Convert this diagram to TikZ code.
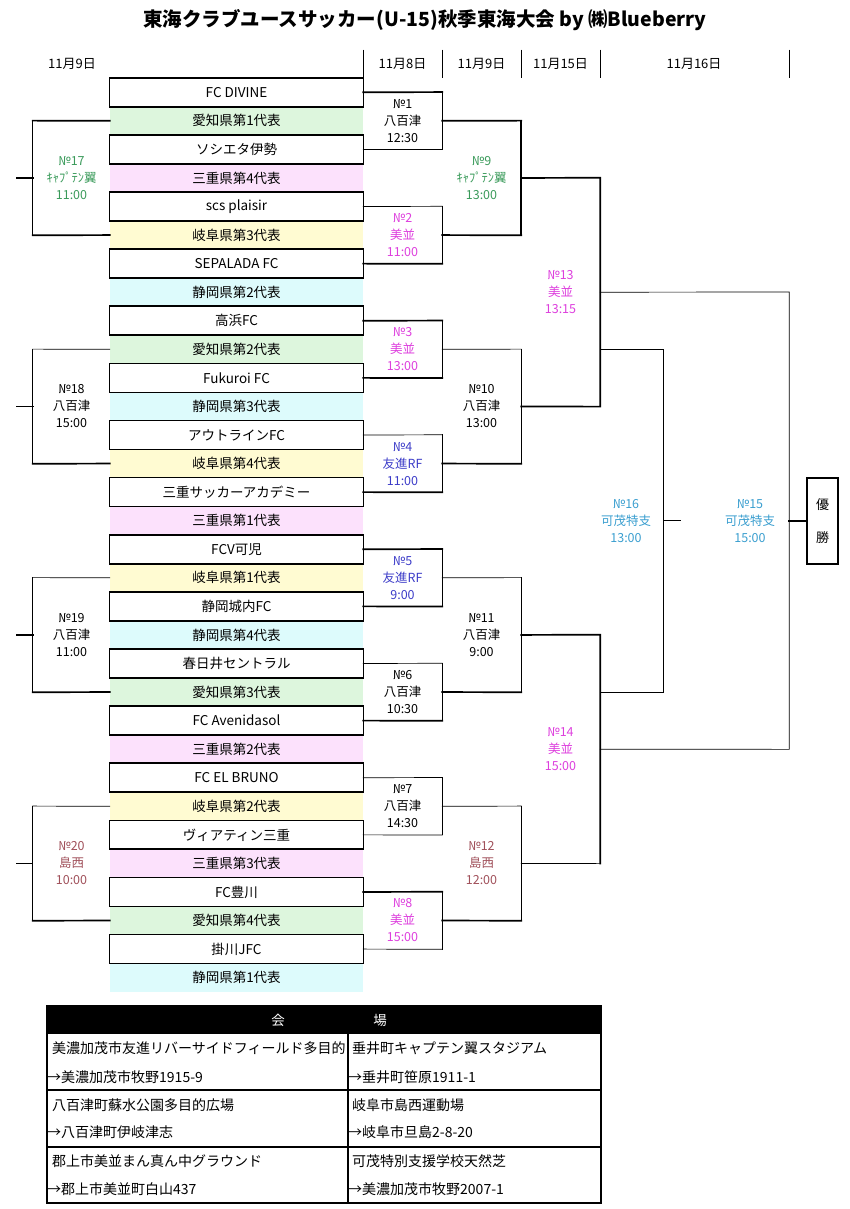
\documentclass[tikz,border=0pt]{standalone}
\usepackage{fontspec}
\setmainfont{Noto Sans CJK JP}
\usetikzlibrary{positioning}

\definecolor{aichi}{HTML}{DDF6DD}
\definecolor{mie}{HTML}{FCE1FC}
\definecolor{gifu}{HTML}{FFFBD2}
\definecolor{shizuoka}{HTML}{DDFBFC}
\definecolor{kgreen}{HTML}{3A9A5A}
\definecolor{kpink}{HTML}{DD3FDD}
\definecolor{kblue}{HTML}{3C3CC8}
\definecolor{kbrown}{HTML}{A0505A}
\definecolor{kcyan}{HTML}{3A9ECF}

\begin{document}
\begin{tikzpicture}[x = 1pt, y = -1pt, line cap = rect,
team/.style={ rectangle, minimum width = 253pt, minimum height = 28.56pt, inner sep = 0pt, font = \fontsize{13.5}{16}\selectfont },
match/.style={ rectangle, align = center, inner sep = 0pt, minimum width = 79pt, font = \fontsize{12.5}{17}\selectfont },
date/.style={ font = \fontsize{13}{15}\selectfont },
cell/.style={ anchor = west, inner sep = 0pt, font = \fontsize{14}{16}\selectfont },
thin line/.style={ line width = 0.7pt },
bold line/.style={ line width = 1.7pt }
]
\useasboundingbox (0,0) rectangle (849,1209);

%title and dates
\node (title) at (425,20) [font = \fontsize{19.5}{21}\selectfont\bfseries] {東海クラブユースサッカー(U-15)秋季東海大会 by ㈱Blueberry};
\node (d1) at (72,64) [date] {11月9日};
\node (d2) at (402.5,64) [date] {11月8日};
\node (d3) at (481.5,64) [date] {11月9日};
\node (d4) at (560.5,64) [date] {11月15日};
\node (d5) at (694,64) [date] {11月16日};
\foreach \x in {363,442,521,600,789}
	\draw[thin line] (\x,50) -- (\x,78);

%teams
\foreach \i/\name/\col in {0/FC DIVINE/white, 1/愛知県第1代表/aichi, 2/ソシエタ伊勢/white, 3/三重県第4代表/mie,
	4/scs plaisir/white, 5/岐阜県第3代表/gifu, 6/SEPALADA FC/white, 7/静岡県第2代表/shizuoka,
	8/高浜FC/white, 9/愛知県第2代表/aichi, 10/Fukuroi FC/white, 11/静岡県第3代表/shizuoka,
	12/アウトラインFC/white, 13/岐阜県第4代表/gifu, 14/三重サッカーアカデミー/white, 15/三重県第1代表/mie,
	16/FCV可児/white, 17/岐阜県第1代表/gifu, 18/静岡城内FC/white, 19/静岡県第4代表/shizuoka,
	20/春日井セントラル/white, 21/愛知県第3代表/aichi, 22/FC Avenidasol/white, 23/三重県第2代表/mie,
	24/FC EL BRUNO/white, 25/岐阜県第2代表/gifu, 26/ヴィアティン三重/white, 27/三重県第3代表/mie,
	28/FC豊川/white, 29/愛知県第4代表/aichi, 30/掛川JFC/white, 31/静岡県第1代表/shizuoka}
	\node (t\i) [team, fill = \col] at (236.5,{78+28.56*(\i+0.5)}) {\name};
\foreach \i in {0,2,...,30}{
	\draw[thin line] (t\i.north west) -- (t\i.south west) (t\i.north east) -- (t\i.south east);
	\draw[bold line] (t\i.north west) -- (t\i.north east) (t\i.south west) -- (t\i.south east);
}

%first round
\foreach \k/\venue/\hour/\tc/\wa/\wb in {1/八百津/12:30/black/1.7/0.7, 2/美並/11:00/kpink/0.7/1.7,
	3/美並/13:00/kpink/1.7/1.7, 4/友進RF/11:00/kblue/0.7/1.7, 5/友進RF/9:00/kblue/1.7/1.7,
	6/八百津/10:30/black/0.7/1.7, 7/八百津/14:30/black/0.7/0.7, 8/美並/15:00/kpink/1.7/0.7}{
	\pgfmathtruncatemacro\ta{4*\k-4}
	\pgfmathtruncatemacro\tb{4*\k-2}
	\node (m\k) [match, text = \tc, minimum height = 2*28.56pt] at (402.5,{78+28.56*(\ta+1.5)}) {№\k\\\venue\\\hour};
	\draw[line width = \wa pt] (t\ta.east) -- (m\k.north east);
	\draw[thin line] (m\k.north east) -- (m\k.south east);
	\draw[line width = \wb pt] (m\k.south east) -- (t\tb.east);
}

%second round
\foreach \k/\venue/\hour/\tc/\wa/\wv/\wb in {9/ｷｬﾌﾟﾃﾝ翼/13:00/kgreen/1.7/1.7/1.7, 10/八百津/13:00/black/0.7/0.7/1.7,
	11/八百津/9:00/black/0.7/0.7/1.7, 12/島西/12:00/kbrown/0.7/0.7/1.7}{
	\pgfmathtruncatemacro\ma{2*\k-17}
	\pgfmathtruncatemacro\mb{2*\k-16}
	\node (m\k) [match, text = \tc, minimum height = 4*28.56pt] at (481.5,{78+28.56*(8*\k-72+3.5)}) {№\k\\\venue\\\hour};
	\draw[line width = \wa pt] (m\ma.east) -- (m\k.north east);
	\draw[line width = \wv pt] (m\k.north east) -- (m\k.south east);
	\draw[line width = \wb pt] (m\k.south east) -- (m\mb.east);
}

%semi finals
\node (m13) [match, text = kpink, minimum height = 8*28.56pt] at (560.5,{78+28.56*7.5}) {№13\\美並\\13:15};
\draw[bold line] (m9.east) -- (m13.north east) -- (m13.south east) -- (m10.east);
\node (m14) [match, text = kpink, minimum height = 8*28.56pt] at (560.5,{78+28.56*23.5}) {№14\\美並\\15:00};
\draw[bold line] (m11.east) -- (m14.north east) -- (m14.south east);
\draw[thin line] (m14.south east) -- (m12.east);

%final and third place
\node (m15) [match, text = kcyan, minimum width = 78pt, minimum height = 16*28.56pt] at (750,{78+28.56*15.5}) {№15\\可茂特支\\15:00};
\node (m16) [match, text = kcyan, minimum width = 74pt, minimum height = 12*28.56pt] at (626,{78+28.56*15.5}) {№16\\可茂特支\\13:00};
\draw[thin line] (m13.east) -- (m15.north east) -- (m15.south east) -- (m14.east);
\draw[thin line] (m13.east |- m16.north east) -- (m16.north east) -- (m16.south east) -- (m14.east |- m16.south east);
\coordinate [right = 17pt of m16.east] (s16);
\draw[thin line] (m16.east) -- (s16);
\node (win) [draw, bold line, minimum width = 31pt, minimum height = 86pt, align = center, font = \fontsize{13}{33}\selectfont, right = 17pt of m15.east] {優\\勝};
\draw[bold line] (m15.east) -- (win);

%left side
\foreach \k/\venue/\hour/\tc/\wa/\wv/\ws/\wb in {17/ｷｬﾌﾟﾃﾝ翼/11:00/kgreen/1.7/1.0/1.7/1.7, 18/八百津/15:00/black/0.7/0.7/1.7/1.7,
	19/八百津/11:00/black/0.7/0.7/1.7/1.7, 20/島西/10:00/kbrown/0.7/0.7/0.7/1.7}{
	\pgfmathtruncatemacro\ta{8*\k-135}
	\pgfmathtruncatemacro\tb{8*\k-131}
	\node (m\k) [match, text = \tc, minimum width = 77pt, minimum height = 4*28.56pt] at (71.5,{78+28.56*(8*\k-133+0.5)}) {№\k\\\venue\\\hour};
	\coordinate [left = 16pt of m\k.west] (s\k);
	\draw[line width = \wa pt] (t\ta.west) -- (m\k.north west);
	\draw[line width = \wv pt] (m\k.north west) -- (m\k.south west);
	\draw[line width = \wb pt] (m\k.south west) -- (t\tb.west);
	\draw[line width = \ws pt] (m\k.west) -- (s\k);
}

%venue table
\node (head) [fill = black, minimum width = 554pt, minimum height = 28pt, inner sep = 0pt] at (324,1020) {};
\node (ka) [text = white, font = \fontsize{13.5}{16}\selectfont] at (278,1020) {会};
\node (jo) [text = white, font = \fontsize{13.5}{16}\selectfont] at (380,1020) {場};
\draw[bold line] (47,1006) rectangle (601,1203);
\draw[bold line] (348,1034) -- (348,1203);
\draw[bold line] (47,1090) -- (601,1090) (47,1147) -- (601,1147);
\node (v1) [cell] at (52,1048) {美濃加茂市友進リバーサイドフィールド多目的};
\node (a1) [cell] at (47,1077) {→美濃加茂市牧野1915-9};
\node (v2) [cell] at (352,1048) {垂井町キャプテン翼スタジアム};
\node (a2) [cell] at (348,1077) {→垂井町笹原1911-1};
\node (v3) [cell] at (52,1105) {八百津町蘇水公園多目的広場};
\node (a3) [cell] at (47,1132) {→八百津町伊岐津志};
\node (v4) [cell] at (352,1105) {岐阜市島西運動場};
\node (a4) [cell] at (348,1132) {→岐阜市旦島2-8-20};
\node (v5) [cell] at (52,1161) {郡上市美並まん真ん中グラウンド};
\node (a5) [cell] at (47,1189) {→郡上市美並町白山437};
\node (v6) [cell] at (352,1161) {可茂特別支援学校天然芝};
\node (a6) [cell] at (348,1189) {→美濃加茂市牧野2007-1};
\end{tikzpicture}
\end{document}
